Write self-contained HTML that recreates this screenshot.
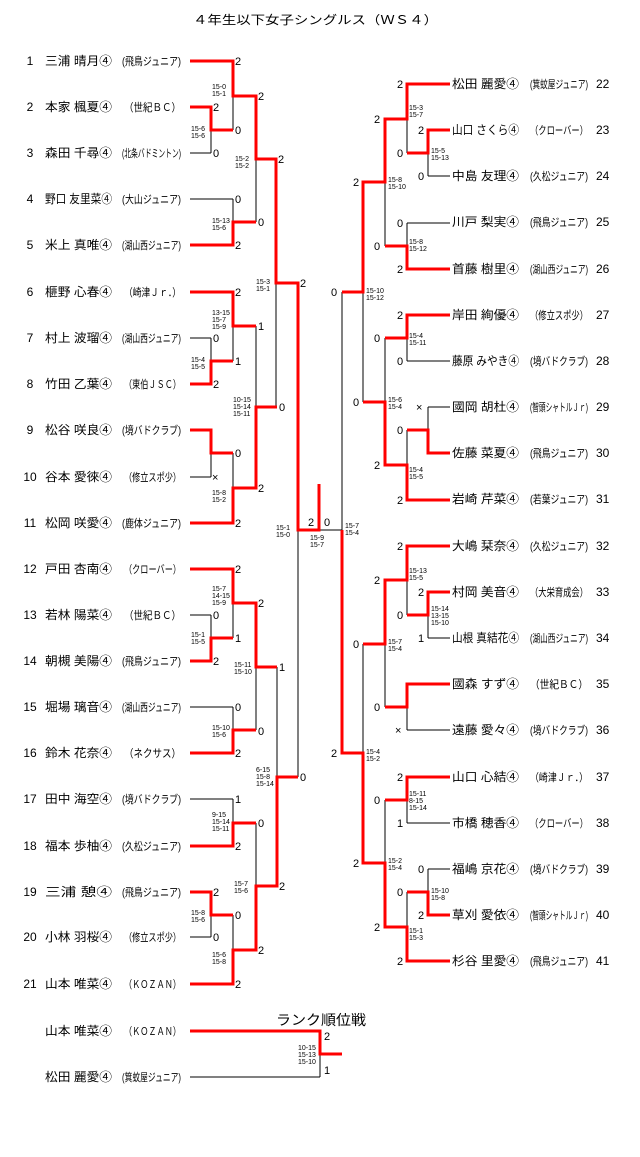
<!DOCTYPE html>
<html><head><meta charset="utf-8"><style>
html,body{margin:0;padding:0;background:#fff;}
svg{display:block;}
.n{font-family:"Liberation Sans","Noto Sans CJK JP",sans-serif;font-size:12px;fill:#000;}
.c{font-family:"Liberation Sans","Noto Sans CJK JP",sans-serif;font-size:11px;fill:#000;}
.s{font-family:"Liberation Sans",sans-serif;font-size:11px;fill:#000;}
.sc{font-family:"Liberation Sans",sans-serif;font-size:7px;fill:#000;}
.k{stroke:#000;stroke-width:1;fill:none;}
.r{stroke:#f00;stroke-width:3;fill:none;}
</style></head><body>
<svg width="640" height="1157" viewBox="0 0 640 1157" xmlns="http://www.w3.org/2000/svg">
<text class="n" x="193" y="24" font-size="13" textLength="245" lengthAdjust="spacingAndGlyphs">４年生以下女子シングルス（ＷＳ４）</text>

<!-- left names -->
<g class="n">
<text x="30" y="65" text-anchor="middle">1</text><text x="45" y="65" textLength="67" lengthAdjust="spacingAndGlyphs">三浦 晴月④</text>
<text x="30" y="111" text-anchor="middle">2</text><text x="45" y="111" textLength="67" lengthAdjust="spacingAndGlyphs">本家 楓夏④</text>
<text x="30" y="157" text-anchor="middle">3</text><text x="45" y="157" textLength="67" lengthAdjust="spacingAndGlyphs">森田 千尋④</text>
<text x="30" y="203" text-anchor="middle">4</text><text x="45" y="203" textLength="67" lengthAdjust="spacingAndGlyphs">野口 友里菜④</text>
<text x="30" y="249" text-anchor="middle">5</text><text x="45" y="249" textLength="67" lengthAdjust="spacingAndGlyphs">米上 真唯④</text>
<text x="30" y="296" text-anchor="middle">6</text><text x="45" y="296" textLength="67" lengthAdjust="spacingAndGlyphs">榧野 心春④</text>
<text x="30" y="342" text-anchor="middle">7</text><text x="45" y="342" textLength="67" lengthAdjust="spacingAndGlyphs">村上 波瑠④</text>
<text x="30" y="388" text-anchor="middle">8</text><text x="45" y="388" textLength="67" lengthAdjust="spacingAndGlyphs">竹田 乙葉④</text>
<text x="30" y="434" text-anchor="middle">9</text><text x="45" y="434" textLength="67" lengthAdjust="spacingAndGlyphs">松谷 咲良④</text>
<text x="30" y="481" text-anchor="middle">10</text><text x="45" y="481" textLength="67" lengthAdjust="spacingAndGlyphs">谷本 愛徠④</text>
<text x="30" y="527" text-anchor="middle">11</text><text x="45" y="527" textLength="67" lengthAdjust="spacingAndGlyphs">松岡 咲愛④</text>
<text x="30" y="573" text-anchor="middle">12</text><text x="45" y="573" textLength="67" lengthAdjust="spacingAndGlyphs">戸田 杏南④</text>
<text x="30" y="619" text-anchor="middle">13</text><text x="45" y="619" textLength="67" lengthAdjust="spacingAndGlyphs">若林 陽菜④</text>
<text x="30" y="665" text-anchor="middle">14</text><text x="45" y="665" textLength="67" lengthAdjust="spacingAndGlyphs">朝槻 美陽④</text>
<text x="30" y="711" text-anchor="middle">15</text><text x="45" y="711" textLength="67" lengthAdjust="spacingAndGlyphs">堀場 璃音④</text>
<text x="30" y="757" text-anchor="middle">16</text><text x="45" y="757" textLength="67" lengthAdjust="spacingAndGlyphs">鈴木 花奈④</text>
<text x="30" y="803" text-anchor="middle">17</text><text x="45" y="803" textLength="67" lengthAdjust="spacingAndGlyphs">田中 海空④</text>
<text x="30" y="850" text-anchor="middle">18</text><text x="45" y="850" textLength="67" lengthAdjust="spacingAndGlyphs">福本 歩柚④</text>
<text x="30" y="896" text-anchor="middle">19</text><text x="45" y="896" textLength="67" lengthAdjust="spacingAndGlyphs">三浦 憩④</text>
<text x="30" y="941" text-anchor="middle">20</text><text x="45" y="941" textLength="67" lengthAdjust="spacingAndGlyphs">小林 羽桜④</text>
<text x="30" y="988" text-anchor="middle">21</text><text x="45" y="988" textLength="67" lengthAdjust="spacingAndGlyphs">山本 唯菜④</text>
<text x="45" y="1035" textLength="67" lengthAdjust="spacingAndGlyphs">山本 唯菜④</text>
<text x="45" y="1081" textLength="67" lengthAdjust="spacingAndGlyphs">松田 麗愛④</text>
</g>
<g class="c">
<text x="122" y="65" textLength="59" lengthAdjust="spacingAndGlyphs">(飛鳥ジュニア)</text>
<text x="124" y="111" textLength="57" lengthAdjust="spacingAndGlyphs">（世紀ＢＣ）</text>
<text x="122" y="157" textLength="59" lengthAdjust="spacingAndGlyphs">(北条バドミントン)</text>
<text x="122" y="203" textLength="59" lengthAdjust="spacingAndGlyphs">(大山ジュニア)</text>
<text x="122" y="249" textLength="59" lengthAdjust="spacingAndGlyphs">(湖山西ジュニア)</text>
<text x="124" y="296" textLength="57" lengthAdjust="spacingAndGlyphs">（崎津Ｊｒ．）</text>
<text x="122" y="342" textLength="59" lengthAdjust="spacingAndGlyphs">(湖山西ジュニア)</text>
<text x="124" y="388" textLength="57" lengthAdjust="spacingAndGlyphs">（東伯ＪＳＣ）</text>
<text x="122" y="434" textLength="59" lengthAdjust="spacingAndGlyphs">(境バドクラブ)</text>
<text x="124" y="481" textLength="57" lengthAdjust="spacingAndGlyphs">（修立スポ少）</text>
<text x="122" y="527" textLength="59" lengthAdjust="spacingAndGlyphs">(鹿体ジュニア)</text>
<text x="124" y="573" textLength="57" lengthAdjust="spacingAndGlyphs">（クローバー）</text>
<text x="124" y="619" textLength="57" lengthAdjust="spacingAndGlyphs">（世紀ＢＣ）</text>
<text x="122" y="665" textLength="59" lengthAdjust="spacingAndGlyphs">(飛鳥ジュニア)</text>
<text x="122" y="711" textLength="59" lengthAdjust="spacingAndGlyphs">(湖山西ジュニア)</text>
<text x="124" y="757" textLength="57" lengthAdjust="spacingAndGlyphs">（ネクサス）</text>
<text x="122" y="803" textLength="59" lengthAdjust="spacingAndGlyphs">(境バドクラブ)</text>
<text x="122" y="850" textLength="59" lengthAdjust="spacingAndGlyphs">(久松ジュニア)</text>
<text x="122" y="896" textLength="59" lengthAdjust="spacingAndGlyphs">(飛鳥ジュニア)</text>
<text x="124" y="941" textLength="57" lengthAdjust="spacingAndGlyphs">（修立スポ少）</text>
<text x="124" y="988" textLength="57" lengthAdjust="spacingAndGlyphs">（ＫＯＺＡＮ）</text>
<text x="124" y="1035" textLength="57" lengthAdjust="spacingAndGlyphs">（ＫＯＺＡＮ）</text>
<text x="122" y="1081" textLength="59" lengthAdjust="spacingAndGlyphs">(箕蚊屋ジュニア)</text>
</g>

<!-- right names -->
<g class="n">
<text x="452" y="88" textLength="67" lengthAdjust="spacingAndGlyphs">松田 麗愛④</text><text x="596" y="88">22</text>
<text x="452" y="134" textLength="67" lengthAdjust="spacingAndGlyphs">山口 さくら④</text><text x="596" y="134">23</text>
<text x="452" y="180" textLength="67" lengthAdjust="spacingAndGlyphs">中島 友理④</text><text x="596" y="180">24</text>
<text x="452" y="226" textLength="67" lengthAdjust="spacingAndGlyphs">川戸 梨実④</text><text x="596" y="226">25</text>
<text x="452" y="273" textLength="67" lengthAdjust="spacingAndGlyphs">首藤 樹里④</text><text x="596" y="273">26</text>
<text x="452" y="319" textLength="67" lengthAdjust="spacingAndGlyphs">岸田 絢優④</text><text x="596" y="319">27</text>
<text x="452" y="365" textLength="67" lengthAdjust="spacingAndGlyphs">藤原 みやき④</text><text x="596" y="365">28</text>
<text x="452" y="411" textLength="67" lengthAdjust="spacingAndGlyphs">國岡 胡杜④</text><text x="596" y="411">29</text>
<text x="452" y="457" textLength="67" lengthAdjust="spacingAndGlyphs">佐藤 菜夏④</text><text x="596" y="457">30</text>
<text x="452" y="503" textLength="67" lengthAdjust="spacingAndGlyphs">岩崎 芹菜④</text><text x="596" y="503">31</text>
<text x="452" y="550" textLength="67" lengthAdjust="spacingAndGlyphs">大嶋 栞奈④</text><text x="596" y="550">32</text>
<text x="452" y="596" textLength="67" lengthAdjust="spacingAndGlyphs">村岡 美音④</text><text x="596" y="596">33</text>
<text x="452" y="642" textLength="67" lengthAdjust="spacingAndGlyphs">山根 真結花④</text><text x="596" y="642">34</text>
<text x="452" y="688" textLength="67" lengthAdjust="spacingAndGlyphs">國森 すず④</text><text x="596" y="688">35</text>
<text x="452" y="734" textLength="67" lengthAdjust="spacingAndGlyphs">遠藤 愛々④</text><text x="596" y="734">36</text>
<text x="452" y="781" textLength="67" lengthAdjust="spacingAndGlyphs">山口 心結④</text><text x="596" y="781">37</text>
<text x="452" y="827" textLength="67" lengthAdjust="spacingAndGlyphs">市橋 穂香④</text><text x="596" y="827">38</text>
<text x="452" y="873" textLength="67" lengthAdjust="spacingAndGlyphs">福嶋 京花④</text><text x="596" y="873">39</text>
<text x="452" y="919" textLength="67" lengthAdjust="spacingAndGlyphs">草刈 愛依④</text><text x="596" y="919">40</text>
<text x="452" y="965" textLength="67" lengthAdjust="spacingAndGlyphs">杉谷 里愛④</text><text x="596" y="965">41</text>
<text x="276" y="1025" font-size="14" textLength="90" lengthAdjust="spacingAndGlyphs">ランク順位戦</text>
</g>
<g class="c">
<text x="530" y="88" textLength="58" lengthAdjust="spacingAndGlyphs">(箕蚊屋ジュニア)</text>
<text x="530" y="134" textLength="58" lengthAdjust="spacingAndGlyphs">（クローバー）</text>
<text x="530" y="180" textLength="58" lengthAdjust="spacingAndGlyphs">(久松ジュニア)</text>
<text x="530" y="226" textLength="58" lengthAdjust="spacingAndGlyphs">(飛鳥ジュニア)</text>
<text x="530" y="273" textLength="58" lengthAdjust="spacingAndGlyphs">(湖山西ジュニア)</text>
<text x="530" y="319" textLength="58" lengthAdjust="spacingAndGlyphs">（修立スポ少）</text>
<text x="530" y="365" textLength="58" lengthAdjust="spacingAndGlyphs">(境バドクラブ)</text>
<text x="530" y="411" textLength="58" lengthAdjust="spacingAndGlyphs">(智頭シャトルＪｒ)</text>
<text x="530" y="457" textLength="58" lengthAdjust="spacingAndGlyphs">(飛鳥ジュニア)</text>
<text x="530" y="503" textLength="58" lengthAdjust="spacingAndGlyphs">(若葉ジュニア)</text>
<text x="530" y="550" textLength="58" lengthAdjust="spacingAndGlyphs">(久松ジュニア)</text>
<text x="530" y="596" textLength="58" lengthAdjust="spacingAndGlyphs">（大栄育成会）</text>
<text x="530" y="642" textLength="58" lengthAdjust="spacingAndGlyphs">(湖山西ジュニア)</text>
<text x="530" y="688" textLength="58" lengthAdjust="spacingAndGlyphs">（世紀ＢＣ）</text>
<text x="530" y="734" textLength="58" lengthAdjust="spacingAndGlyphs">(境バドクラブ)</text>
<text x="530" y="781" textLength="58" lengthAdjust="spacingAndGlyphs">（崎津Ｊｒ．）</text>
<text x="530" y="827" textLength="58" lengthAdjust="spacingAndGlyphs">（クローバー）</text>
<text x="530" y="873" textLength="58" lengthAdjust="spacingAndGlyphs">(境バドクラブ)</text>
<text x="530" y="919" textLength="58" lengthAdjust="spacingAndGlyphs">(智頭シャトルＪｒ)</text>
<text x="530" y="965" textLength="58" lengthAdjust="spacingAndGlyphs">(飛鳥ジュニア)</text>
</g>

<!-- black bracket lines -->
<path class="k" d="
M190 61H233 M190 107H211 M190 153H211 M211 107V153 M211 130H233 M233 61V130 M233 96H256
M190 199H233 M190 245H233 M233 199V245 M233 222H256 M256 96V222 M256 159H276
M190 292H233 M190 338H211 M190 384H211 M211 338V384 M211 361H233 M233 292V361 M233 326H256
M190 430H211 M190 477H211 M211 430V477 M211 453H233 M190 523H233 M233 453V523 M233 488H256
M256 326V488 M256 407H276 M276 159V407 M276 283H298
M190 569H233 M190 615H211 M190 661H211 M211 615V661 M211 638H233 M233 569V638 M233 603H256
M190 707H233 M190 753H233 M233 707V753 M233 730H256 M256 603V730 M256 667H277
M190 799H233 M190 846H233 M233 799V846 M233 823H256 M190 892H211 M190 937H211 M211 892V937 M211 915H233
M190 984H233 M233 915V984 M233 950H256 M256 823V950 M256 886H277 M277 667V886 M277 777H298
M298 283V777 M298 530H342
M407 84H450 M428 130H450 M428 176H450 M428 130V176 M407 153H428 M407 84V153 M385 119H407
M407 223H450 M407 269H450 M407 223V269 M385 246H407 M385 119V246 M363 182H385
M407 315H450 M407 361H450 M407 315V361 M385 338H407 M428 407H450 M428 453H450 M428 407V453 M407 430H428
M407 500H450 M407 430V500 M385 465H407 M385 338V465 M363 402H385 M363 182V402 M342 292H363
M407 546H450 M428 592H450 M428 638H450 M428 592V638 M407 615H428 M407 546V615 M385 580H407
M407 684H450 M407 730H450 M407 684V730 M385 707H407 M385 580V707 M363 644H385
M407 777H450 M407 823H450 M407 777V823 M385 800H407 M428 869H450 M428 915H450 M428 869V915 M407 892H428
M407 961H450 M407 892V961 M385 927H407 M385 800V927 M363 863H385 M363 644V863 M342 753H363 M342 292V753
M190 1077H320 M320 1054V1077
"/>
<!-- red winner paths -->
<g class="r">
<path d="M190 61H233V96H256V159H276V283H298V530H319V484"/>
<path d="M190 107H211V130H233"/>
<path d="M190 245H233V222H256"/>
<path d="M190 292H233V326H256"/>
<path d="M190 384H211V361H233"/>
<path d="M190 430H211V453H233"/>
<path d="M190 523H233V488H256V407H277"/>
<path d="M190 569H233V603H256V667H277"/>
<path d="M190 661H211V638H233"/>
<path d="M190 753H233V730H256"/>
<path d="M190 846H233V823H256"/>
<path d="M190 892H211V915H233"/>
<path d="M190 984H233V950H256V886H277V777H298"/>
<path d="M450 84H407V119H385V182H363V292H342"/>
<path d="M450 130H428V153H407"/>
<path d="M450 269H407V246H385"/>
<path d="M450 315H407V338H385"/>
<path d="M450 453H428V430H407"/>
<path d="M450 500H407V465H385V402H363"/>
<path d="M450 546H407V580H385V644H363"/>
<path d="M450 592H428V615H407"/>
<path d="M450 684H407V707H385"/>
<path d="M450 777H407V800H385"/>
<path d="M450 915H428V892H407"/>
<path d="M450 961H407V927H385V863H363V753H342V530"/>
<path d="M190 1031H320V1054H342"/>
</g>

<!-- game results -->
<g class="s">
<text x="235" y="65">2</text><text x="213" y="111">2</text><text x="213" y="157">0</text><text x="235" y="134">0</text>
<text x="258" y="100">2</text><text x="235" y="203">0</text><text x="235" y="249">2</text><text x="258" y="226">0</text>
<text x="278" y="163">2</text><text x="300" y="287">2</text>
<text x="235" y="296">2</text><text x="213" y="342">0</text><text x="213" y="388">2</text><text x="235" y="365">1</text>
<text x="258" y="330">1</text><text x="235" y="457">0</text><text x="212" y="481">×</text><text x="235" y="527">2</text>
<text x="258" y="492">2</text><text x="279" y="411">0</text>
<text x="235" y="573">2</text><text x="213" y="619">0</text><text x="213" y="665">2</text><text x="235" y="642">1</text>
<text x="258" y="607">2</text><text x="235" y="711">0</text><text x="235" y="757">2</text><text x="258" y="735">0</text>
<text x="279" y="671">1</text><text x="300" y="781">0</text>
<text x="235" y="803">1</text><text x="235" y="850">2</text><text x="258" y="827">0</text><text x="213" y="896">2</text>
<text x="213" y="941">0</text><text x="235" y="919">0</text><text x="235" y="988">2</text><text x="258" y="954">2</text>
<text x="279" y="890">2</text>
<text x="308" y="526">2</text><text x="324" y="526">0</text>
<text x="397" y="88">2</text><text x="418" y="134">2</text><text x="418" y="180">0</text><text x="397" y="157">0</text>
<text x="374" y="123">2</text><text x="397" y="227">0</text><text x="397" y="273">2</text><text x="374" y="250">0</text>
<text x="353" y="186">2</text><text x="331" y="296">0</text>
<text x="397" y="319">2</text><text x="397" y="365">0</text><text x="374" y="342">0</text><text x="416" y="411">×</text>
<text x="397" y="434">0</text><text x="397" y="504">2</text><text x="374" y="469">2</text><text x="353" y="406">0</text>
<text x="397" y="550">2</text><text x="418" y="596">2</text><text x="418" y="642">1</text><text x="397" y="619">0</text>
<text x="374" y="584">2</text><text x="395" y="734">×</text><text x="374" y="711">0</text><text x="353" y="648">0</text>
<text x="331" y="757">2</text>
<text x="397" y="781">2</text><text x="397" y="827">1</text><text x="374" y="804">0</text><text x="418" y="873">0</text>
<text x="418" y="919">2</text><text x="397" y="896">0</text><text x="397" y="965">2</text><text x="374" y="931">2</text>
<text x="353" y="867">2</text>
<text x="324" y="1040">2</text><text x="324" y="1074">1</text>
</g>

<!-- set scores -->
<g class="sc">
<text x="212" y="89">15-0<tspan x="212" dy="7">15-1</tspan></text>
<text x="191" y="131">15-6<tspan x="191" dy="7">15-6</tspan></text>
<text x="235" y="161">15-2<tspan x="235" dy="7">15-2</tspan></text>
<text x="212" y="223">15-13<tspan x="212" dy="7">15-6</tspan></text>
<text x="256" y="284">15-3<tspan x="256" dy="7">15-1</tspan></text>
<text x="212" y="315">13-15<tspan x="212" dy="7">15-7</tspan><tspan x="212" dy="7">15-9</tspan></text>
<text x="191" y="362">15-4<tspan x="191" dy="7">15-5</tspan></text>
<text x="233" y="402">10-15<tspan x="233" dy="7">15-14</tspan><tspan x="233" dy="7">15-11</tspan></text>
<text x="212" y="495">15-8<tspan x="212" dy="7">15-2</tspan></text>
<text x="276" y="530">15-1<tspan x="276" dy="7">15-0</tspan></text>
<text x="310" y="540">15-9<tspan x="310" dy="7">15-7</tspan></text>
<text x="345" y="528">15-7<tspan x="345" dy="7">15-4</tspan></text>
<text x="212" y="591">15-7<tspan x="212" dy="7">14-15</tspan><tspan x="212" dy="7">15-9</tspan></text>
<text x="191" y="637">15-1<tspan x="191" dy="7">15-5</tspan></text>
<text x="234" y="667">15-11<tspan x="234" dy="7">15-10</tspan></text>
<text x="212" y="730">15-10<tspan x="212" dy="7">15-6</tspan></text>
<text x="256" y="772">6-15<tspan x="256" dy="7">15-8</tspan><tspan x="256" dy="7">15-14</tspan></text>
<text x="212" y="817">9-15<tspan x="212" dy="7">15-14</tspan><tspan x="212" dy="7">15-11</tspan></text>
<text x="234" y="886">15-7<tspan x="234" dy="7">15-6</tspan></text>
<text x="191" y="915">15-8<tspan x="191" dy="7">15-6</tspan></text>
<text x="212" y="957">15-6<tspan x="212" dy="7">15-8</tspan></text>
<text x="409" y="110">15-3<tspan x="409" dy="7">15-7</tspan></text>
<text x="431" y="153">15-5<tspan x="431" dy="7">15-13</tspan></text>
<text x="388" y="182">15-8<tspan x="388" dy="7">15-10</tspan></text>
<text x="409" y="244">15-8<tspan x="409" dy="7">15-12</tspan></text>
<text x="366" y="293">15-10<tspan x="366" dy="7">15-12</tspan></text>
<text x="409" y="338">15-4<tspan x="409" dy="7">15-11</tspan></text>
<text x="388" y="402">15-6<tspan x="388" dy="7">15-4</tspan></text>
<text x="409" y="472">15-4<tspan x="409" dy="7">15-5</tspan></text>
<text x="409" y="573">15-13<tspan x="409" dy="7">15-5</tspan></text>
<text x="431" y="611">15-14<tspan x="431" dy="7">13-15</tspan><tspan x="431" dy="7">15-10</tspan></text>
<text x="388" y="644">15-7<tspan x="388" dy="7">15-4</tspan></text>
<text x="366" y="754">15-4<tspan x="366" dy="7">15-2</tspan></text>
<text x="409" y="796">15-11<tspan x="409" dy="7">8-15</tspan><tspan x="409" dy="7">15-14</tspan></text>
<text x="388" y="863">15-2<tspan x="388" dy="7">15-4</tspan></text>
<text x="431" y="893">15-10<tspan x="431" dy="7">15-8</tspan></text>
<text x="409" y="933">15-1<tspan x="409" dy="7">15-3</tspan></text>
<text x="298" y="1050">10-15<tspan x="298" dy="7">15-13</tspan><tspan x="298" dy="7">15-10</tspan></text>
</g>
</svg>
</body></html>
